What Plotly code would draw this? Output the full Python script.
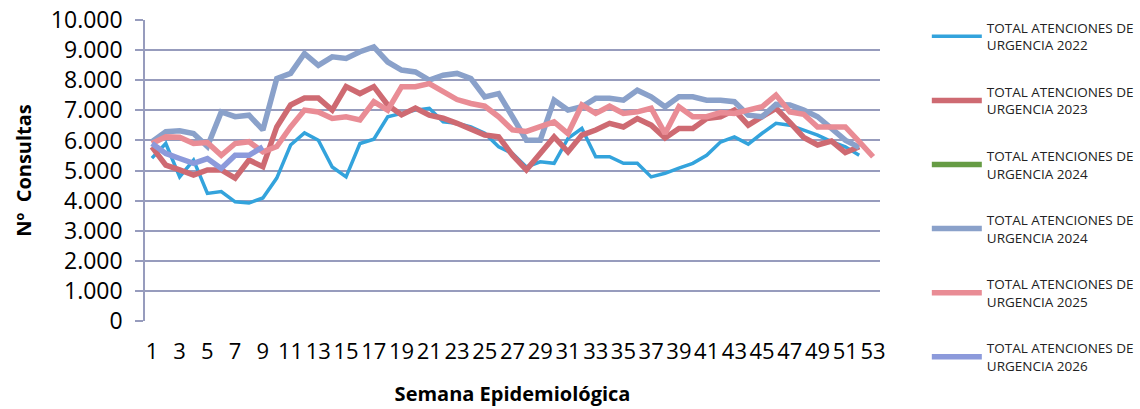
import plotly.graph_objects as go

weeks = list(range(1, 54))

urg_2022 = [5415, 5900, 4790, 5350, 4240, 4300, 3960, 3920, 4090, 4750, 5850, 6250, 6010, 5120, 4790, 5900, 6040, 6790, 6900, 7010, 7070, 6620, 6570, 6450, 6240, 5790, 5570, 5120, 5290, 5240, 6070, 6400, 5460, 5460, 5240, 5240, 4790, 4910, 5080, 5240, 5510, 5950, 6120, 5880, 6240, 6570, 6510, 6350, 6180, 5960, 5790, 5510]
urg_2023 = [5790, 5180, 5020, 4850, 5020, 5020, 4750, 5350, 5130, 6450, 7180, 7410, 7410, 7010, 7790, 7560, 7790, 7180, 6850, 7080, 6840, 6740, 6570, 6350, 6180, 6120, 5510, 5020, 5570, 6120, 5620, 6180, 6350, 6570, 6450, 6730, 6510, 6080, 6400, 6400, 6730, 6790, 7010, 6510, 6790, 7070, 6600, 6100, 5850, 5980, 5600, 5790]
urg_2024a = [None] * 53
urg_2024b = [5960, 6290, 6320, 6230, 5800, 6950, 6790, 6840, 6350, 8060, 8230, 8890, 8500, 8780, 8730, 8950, 9110, 8610, 8340, 8280, 8010, 8170, 8230, 8060, 7450, 7560, 6790, 6010, 6010, 7340, 7010, 7120, 7400, 7400, 7340, 7670, 7450, 7120, 7450, 7450, 7340, 7340, 7290, 6840, 6790, 7200, 7180, 7010, 6790, 6380, 6010, 5770]
urg_2025 = [5900, 6120, 6110, 5900, 5930, 5510, 5900, 5960, 5620, 5800, 6450, 7010, 6950, 6730, 6790, 6680, 7290, 7010, 7790, 7790, 7890, 7620, 7360, 7230, 7140, 6790, 6350, 6300, 6450, 6620, 6230, 7180, 6900, 7140, 6900, 6950, 7070, 6230, 7120, 6790, 6790, 6930, 6900, 7010, 7120, 7510, 6950, 6870, 6450, 6450, 6450, 5960, 5460]
urg_2026 = [5900, 5570, 5400, 5240, 5400, 5070, 5510, 5510, 5790]

series = [
    ("TOTAL ATENCIONES DE<br>URGENCIA 2022", urg_2022, "#33A3DC", 3.5),
    ("TOTAL ATENCIONES DE<br>URGENCIA 2023", urg_2023, "#CE6A72", 5.5),
    ("TOTAL ATENCIONES DE<br>URGENCIA 2024", urg_2024a, "#669C44", 5.5),
    ("TOTAL ATENCIONES DE<br>URGENCIA 2024 ", urg_2024b, "#8AA1CA", 5.5),
    ("TOTAL ATENCIONES DE<br>URGENCIA 2025", urg_2025, "#E98C95", 5.5),
    ("TOTAL ATENCIONES DE<br>URGENCIA 2026", urg_2026, "#8C9ADB", 5.5),
]

FONT = "Open Sans"
grid = "#979CBD"

fig = go.Figure()
for i, (name, vals, color, w) in enumerate(series):
    fig.add_trace(go.Scatter(
        x=weeks[:len(vals)], y=vals, mode="lines", name=name,
        line=dict(color=color, width=w), legendgroup=f"g{i}",
        connectgaps=False,
    ))

fig.update_layout(
    width=1140, height=409,
    margin=dict(l=145, r=260, t=20, b=88, autoexpand=False),
    paper_bgcolor="white", plot_bgcolor="white",
    separators=",.",
    font=dict(family=FONT, color="#000000"),
    showlegend=True,
    legend=dict(
        xref="container", yref="container",
        x=0.813, y=0.97, xanchor="left", yanchor="top",
        font=dict(family=FONT, size=13.5, color="#222222"),
        tracegroupgap=26, traceorder="grouped",
        itemwidth=50,
        maxheight=1.0,
        bgcolor="rgba(0,0,0,0)",
    ),
)

fig.update_xaxes(
    range=[0.5, 53.5], tickmode="array", tickvals=list(range(1, 54, 2)),
    ticktext=[str(v) for v in range(1, 54, 2)], tickangle=0,
    tickfont=dict(family=FONT, size=22, color="#000000"),
    showgrid=False, zeroline=False, showline=False, ticks="",
    ticklabelstandoff=15, automargin=False, ticklabeloverflow="allow",
    title=dict(text="<b>Semana Epidemiológica</b>", font=dict(family=FONT, size=20, color="#000000"), standoff=22),
)

fig.update_yaxes(
    range=[0, 10005], tickvals=list(range(0, 10001, 1000)), tickformat=",d",
    tickfont=dict(family=FONT, size=23, color="#000000"),
    showgrid=True, gridcolor=grid, gridwidth=1.5,
    zeroline=False, showline=True, linecolor=grid, linewidth=1.5,
    ticks="outside", ticklen=8, tickcolor=grid, tickwidth=1.5,
    ticklabelstandoff=8, automargin=False, ticklabeloverflow="allow",
    title=dict(text="<b>Nº  Consultas</b>", font=dict(family=FONT, size=20, color="#000000"), standoff=14),
)

fig.write_html("out.html", config={"displayModeBar": False},
               post_script="document.body.style.margin='0';")
